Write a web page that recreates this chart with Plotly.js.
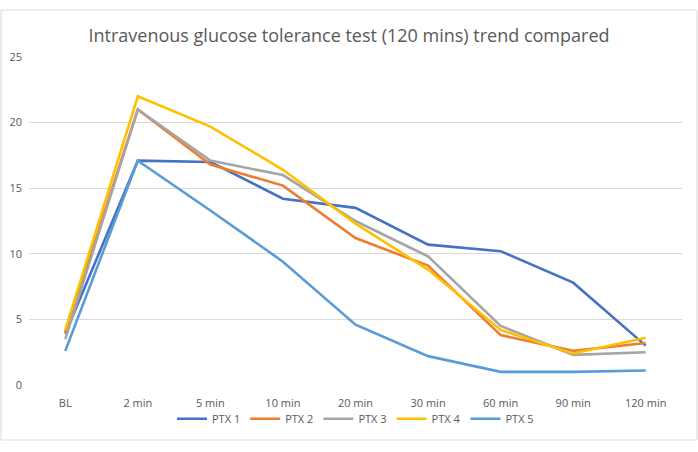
<!DOCTYPE html>
<html><head><meta charset="utf-8">
<script src="https://cdn.plot.ly/plotly-3.0.1.min.js"></script>
<style>html,body{margin:0;padding:0;background:#fff}#c{width:698px;height:452px}</style>
</head><body><div id="c"></div>
<script>
const categories = ["BL","2 min","5 min","10 min","20 min","30 min","60 min","90 min","120 min"];
const seriesNames = ["PTX 1","PTX 2","PTX 3","PTX 4","PTX 5"];
const ptx1 = [3.9, 17.1, 17.0, 14.2, 13.5, 10.7, 10.2, 7.8, 3.0];
const ptx2 = [4.0, 21.0, 16.8, 15.2, 11.2, 9.1, 3.8, 2.6, 3.2];
const ptx3 = [3.5, 21.0, 17.1, 16.0, 12.5, 9.8, 4.5, 2.3, 2.5];
const ptx4 = [4.2, 22.0, 19.7, 16.4, 12.3, 8.8, 4.2, 2.4, 3.6];
const ptx5 = [2.6, 17.1, 13.3, 9.4, 4.6, 2.2, 1.0, 1.0, 1.1];
const yTicks = [0,5,10,15,20,25];

const colors = ["#4472C4","#ED7D31","#A5A5A5","#FFC000","#5B9BD5"];
const allSeries = [ptx1, ptx2, ptx3, ptx4, ptx5];
const traces = allSeries.map((vals, i) => ({
  type: "scatter", mode: "lines", x: categories, y: vals, name: seriesNames[i],
  line: {color: colors[i], width: 2.6}
}));

const layout = {
  width: 698, height: 452,
  margin: {l: 29, r: 16, t: 57, b: 67},
  paper_bgcolor: "#fff", plot_bgcolor: "#fff",
  font: {family: "Open Sans, sans-serif", color: "#595959", size: 11},
  title: {text: "Intravenous glucose tolerance test (120 mins) trend compared",
          font: {size: 18, color: "#595959", family: "Open Sans, sans-serif"},
          x: 0.5, xanchor: "center", y: 0.922, yanchor: "middle"},
  xaxis: {type: "category", range: [-0.5, 8.5], showgrid: false, zeroline: false, showline: false,
          ticks: "", tickfont: {size: 11, color: "#595959"}, ticklabelstandoff: 10, fixedrange: true},
  yaxis: {range: [0, 25], tickvals: yTicks, showgrid: true, gridcolor: "#D9D9D9", gridwidth: 1,
          zeroline: false, showline: false, ticks: "", tickfont: {size: 11, color: "#595959"},
          ticklabelstandoff: 6},
  legend: {orientation: "h", x: 0.5, xanchor: "center", y: -0.103, yanchor: "middle",
           bgcolor: "rgba(0,0,0,0)", font: {size: 11, color: "#595959"}, tracegroupgap: 0},
  showlegend: true,
  shapes: [{type: "rect", xref: "paper", yref: "paper", x0: -0.0429, x1: 1.023, y0: -0.1677, y1: 1.143,
            line: {color: "#D9D9D9", width: 1}, fillcolor: "rgba(0,0,0,0)", layer: "below"}]
};
Plotly.newPlot("c", traces, layout, {displayModeBar: false, staticPlot: true});
</script>
</body></html>
